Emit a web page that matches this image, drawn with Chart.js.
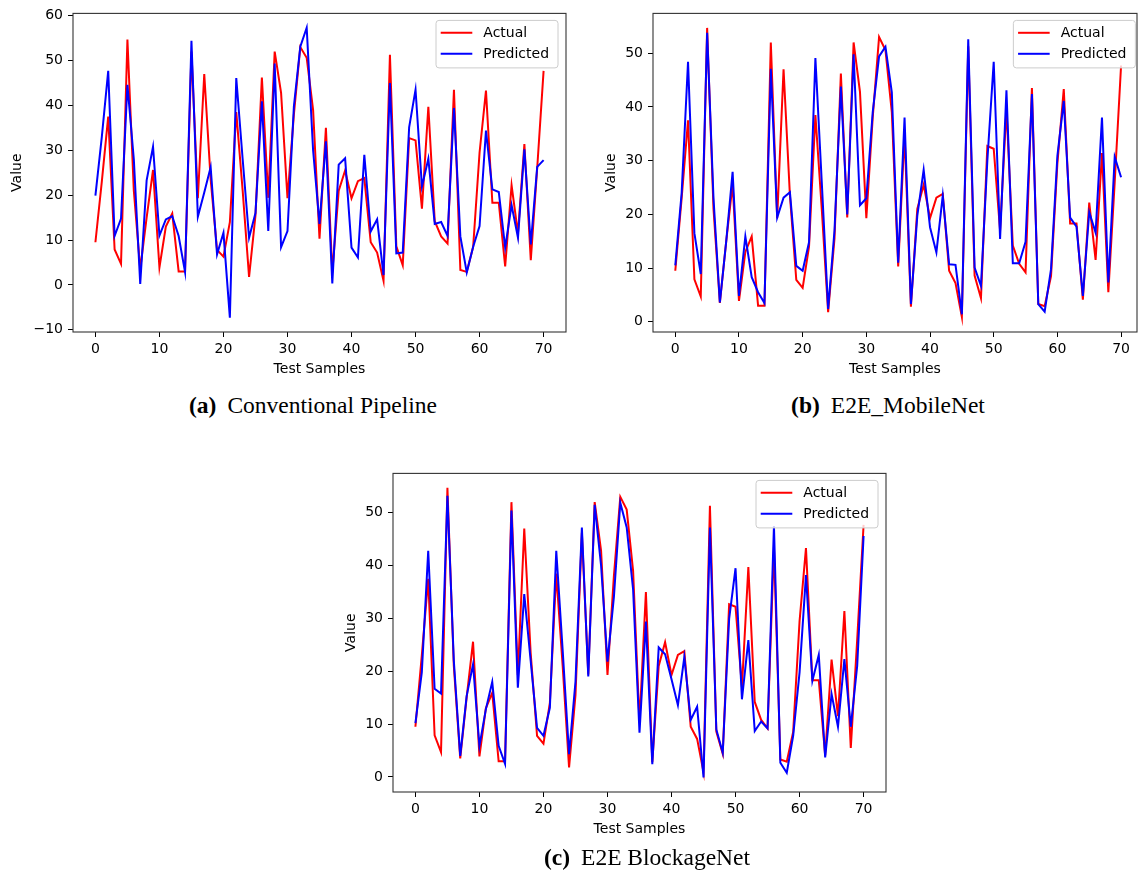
<!DOCTYPE html>
<html>
<head>
<meta charset="utf-8">
<script src="https://cdn.jsdelivr.net/npm/chart.js@4/dist/chart.umd.min.js"></script>
<style>
  body { margin: 0; background: #fff; width: 1138px; height: 880px; overflow: hidden; position: relative; }
  canvas { position: absolute; }
  .cap { position: absolute; font-family: 'Liberation Serif', serif; font-size: 23.5px; line-height: 24px;
         white-space: nowrap; transform: translateX(-50%); color: #000; }
  .cap b { margin-right: 11px; }
</style>
</head>
<body>
<canvas id="chartA" width="570" height="385" style="left:0;top:0"></canvas>
<canvas id="chartB" width="558" height="385" style="left:580px;top:0"></canvas>
<canvas id="chartC" width="570" height="385" style="left:320px;top:460px"></canvas>
<div class="cap" style="left:313px;top:393px"><b>(a)</b>Conventional Pipeline</div>
<div class="cap" style="left:888px;top:393px"><b>(b)</b>E2E_MobileNet</div>
<div class="cap" style="left:647px;top:845px"><b>(c)</b>E2E BlockageNet</div>
<script>
// ground truth is the same test set in all three panels
const actual = [9.5, 23, 37.5, 7.9, 4.7, 54.7, 21, 3.5, 15, 25.6,
  3.9, 13, 15.9, 3, 3, 52, 19.3, 47, 23.5, 7.8,
  6.3, 14, 38.5, 21, 1.8, 15.5, 46.2, 19.4, 52, 42.8,
  19.3, 38, 53, 50.6, 39, 10.3, 35, 2.8, 21, 25.5,
  19.3, 23.1, 23.8, 9.5, 7.2, 0.9, 51.3, 8.6, 4.4, 32.7,
  32.2, 17, 39.7, 14.2, 10.8, 9.2, 43.5, 3.3, 2.9, 8.5,
  29.5, 43.3, 18.3, 18.3, 4.1, 22.2, 11.5, 31.4, 5.5, 26,
  47.7];
const predConventional = [19.9, 33, 47.7, 10.9, 14.8, 44.6, 28, 0.2, 23.3, 30.8,
  11, 14.6, 15.3, 10.9, 2.9, 54.4, 15.2, 20.6, 26.2, 6.8,
  11.6, -7.3, 46.1, 28, 10.5, 16, 40.9, 12, 49.3, 8.4,
  12, 39.8, 53.1, 57.3, 30, 13.6, 32, 0.3, 26.8, 28.2,
  8.3, 6.1, 29, 11.9, 14.6, 2.2, 45, 7, 7.2, 35.1,
  43.5, 21.9, 28.1, 13.6, 14, 10.9, 39.4, 10.8, 2.75, 8.5,
  13.1, 34.4, 21.3, 20.7, 8.3, 17.8, 10.5, 30.2, 9, 26.3,
  27.8];
const predMobileNet = [10.5, 24, 48.4, 16.5, 8.9, 53.8, 23, 3.6, 15, 27.9,
  4.8, 15.9, 8.3, 5.5, 3.5, 47.1, 19.4, 23.1, 24.1, 10.4,
  9.5, 14.8, 49.1, 26, 2.4, 17, 43.8, 20, 49.8, 21.7,
  23, 39, 49.4, 51.2, 42.7, 11, 38, 3.3, 19.7, 28.3,
  17.6, 12.9, 23.5, 10.7, 10.6, 1.4, 52.6, 10.1, 6.7, 30,
  48.4, 15.4, 43.1, 10.9, 10.9, 14.9, 42.4, 3.3, 1.9, 9.8,
  30.9, 41.1, 19.4, 17.7, 4.8, 20.4, 16.6, 38, 7.3, 30.7,
  26.9];
const predBlockageNet = [10.2, 19.8, 42.8, 16.7, 15.8, 53.2, 22, 4, 15.3, 21.3,
  5.9, 12.8, 18, 5.9, 2.5, 50.4, 16.9, 34.6, 22, 9.3,
  7.8, 13.1, 42.8, 24, 4.3, 18, 47.2, 19, 51.5, 40,
  21.8, 34, 51.9, 47.2, 35.5, 8.4, 29.4, 2.4, 24.5, 23.2,
  18.5, 13.6, 22.7, 10.8, 13.3, -0.1, 47.2, 9, 4.6, 29.9,
  39.5, 14.7, 25.9, 8.7, 10.5, 9.2, 47.5, 2.7, 0.8, 7.8,
  19.8, 38.2, 18.2, 23.1, 3.7, 15.7, 9.5, 22.3, 9.5, 21,
  45.6];
const seriesNames = ['Actual', 'Predicted'];
const seriesColors = ['#ff0000', '#0000ff'];

Chart.defaults.font.family = "'DejaVu Sans', sans-serif";
Chart.defaults.font.size = 14;
Chart.defaults.color = '#000';

// matplotlib-ish box around the axes plus the legend in the top right corner
const frameAndLegend = {
  id: 'frameAndLegend',
  afterDraw(chart) {
    const {ctx, chartArea: a, scales} = chart;
    ctx.save();
    ctx.strokeStyle = '#333';
    ctx.lineWidth = 1.1;
    ctx.strokeRect(a.left, a.top, a.right - a.left, a.bottom - a.top);

    const right = scales.x.getPixelForValue(73.5) - 8;
    const w = 122, h = 47.5;
    const left = right - w, top = a.top + 7;
    ctx.beginPath();
    ctx.roundRect(left, top, w, h, 3);
    ctx.fillStyle = 'rgba(255,255,255,0.8)';
    ctx.fill();
    ctx.strokeStyle = '#cccccc';
    ctx.lineWidth = 1;
    ctx.stroke();

    chart.data.datasets.forEach(function (ds, i) {
      const y = top + 12.4 + i * 21;
      ctx.beginPath();
      ctx.moveTo(left + 4.7, y);
      ctx.lineTo(left + 36.3, y);
      ctx.strokeStyle = ds.borderColor;
      ctx.lineWidth = 2;
      ctx.stroke();
      ctx.fillStyle = '#000';
      ctx.font = "14px 'DejaVu Sans'";
      ctx.textBaseline = 'middle';
      ctx.fillText(ds.label, left + 47.3, y + 1);
    });
    ctx.restore();
  }
};

function makeChart(id, predicted, yMin, yMax, xMax, yTitlePad, padRight) {
  const toPoints = function (arr) { return arr.map(function (v, i) { return {x: i, y: v}; }); };
  // predicted (order 0) is painted over actual, like the second plt.plot call
  const lineSet = function (arr, k) {
    return {label: seriesNames[k], data: toPoints(arr), borderColor: seriesColors[k],
      backgroundColor: seriesColors[k], borderWidth: 2, pointRadius: 0, tension: 0, fill: false,
      order: 1 - k};
  };
  const grid = {display: true, drawOnChartArea: false, drawTicks: true, tickLength: 5,
    tickColor: '#000', tickWidth: 1};
  return new Chart(document.getElementById(id), {
    type: 'line',
    data: {datasets: [lineSet(actual, 0), lineSet(predicted, 1)]},
    options: {
      responsive: false,
      animation: false,
      devicePixelRatio: 1,
      layout: {padding: {top: 13.3, right: padRight, left: 0, bottom: 0}},
      plugins: {legend: {display: false}, tooltip: {enabled: false}},
      scales: {
        x: {
          type: 'linear', min: -3.5, max: xMax,
          grid: grid, border: {display: false},
          ticks: {stepSize: 10, includeBounds: false, padding: 4, font: {size: 14}},
          title: {display: true, text: 'Test Samples', padding: 7.6, font: {size: 14}},
          afterFit: function (s) { s.height = 53; }
        },
        y: {
          type: 'linear', min: yMin, max: yMax,
          grid: grid, border: {display: false},
          ticks: {stepSize: 10, includeBounds: false, padding: 5, font: {size: 14},
            callback: function (v) { return String(v).replace('-', '\u2212'); }},
          title: {display: true, text: 'Value', padding: yTitlePad, font: {size: 14}},
          afterFit: function (s) { s.width = 73; }
        }
      }
    },
    plugins: [frameAndLegend]
  });
}

makeChart('chartA', predConventional, -10.5, 60.5, 73.5, 9.4, 4);
makeChart('chartB', predMobileNet, -1.9, 57.4, 72.5, 22.6, 1);
makeChart('chartC', predBlockageNet, -2.84, 57.44, 73.5, 22.6, 4);
</script>
</body>
</html>
